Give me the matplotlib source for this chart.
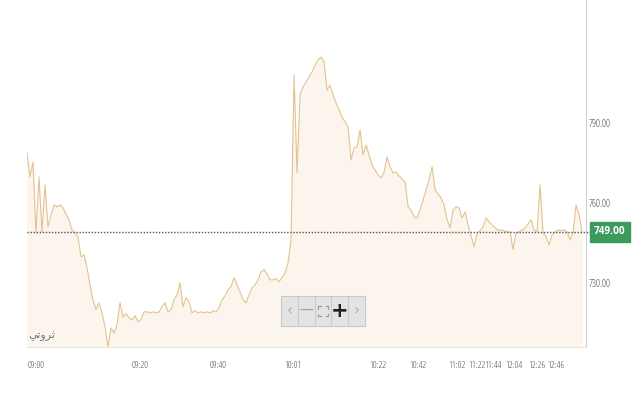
import matplotlib
matplotlib.use("Agg")
import matplotlib.pyplot as plt
from matplotlib.patches import Rectangle
from matplotlib.lines import Line2D
from matplotlib.font_manager import FontProperties
import matplotlib.transforms as mtransforms

# ---- data ----
prices = [
    778.6, 769.6, 775.2, 748.6, 769.6, 749.0, 766.6, 750.9, 755.4, 759.1,
    758.4, 759.1, 758.0, 755.7, 753.5, 749.7, 748.6, 747.1, 739.6, 740.4,
    735.5, 729.1, 723.5, 719.8, 722.4, 718.6, 713.4, 705.9, 713.0, 711.1,
    714.1, 722.4, 717.1, 718.3, 716.8, 716.0, 717.5, 715.3, 716.0, 719.0,
    719.0, 718.6, 719.0, 718.6, 719.0, 720.9, 722.4, 719.0, 719.8, 723.5,
    725.4, 729.9, 720.9, 724.3, 722.8, 718.6, 719.4, 718.6, 719.0, 718.6,
    719.0, 718.6, 719.4, 719.0, 720.5, 723.5, 725.0, 727.3, 728.4, 731.8,
    729.1, 726.5, 723.5, 722.4, 725.4, 728.0, 729.1, 731.0, 734.0, 734.8,
    733.3, 731.0, 731.0, 731.4, 730.3, 731.8, 733.6, 737.4, 746.0, 807.9,
    771.1, 800.4, 803.4, 805.2, 807.1, 809.0, 811.6, 813.5, 814.6, 812.7,
    802.2, 804.1, 800.4, 797.4, 794.7, 792.1, 790.2, 788.4, 776.0, 780.5,
    780.9, 787.2, 777.9, 781.6, 777.9, 774.1, 772.2, 770.4, 769.2, 771.5,
    777.1, 773.4, 771.1, 771.5, 770.0, 768.9, 767.7, 758.4, 757.2, 754.6,
    754.2, 757.2, 761.0, 764.7, 768.5, 773.4, 764.7, 763.2, 761.7, 759.1,
    753.5, 750.5, 757.2, 758.4, 758.0, 754.2, 756.5, 751.6, 747.5, 743.4,
    748.6, 749.4, 750.9, 754.2, 752.7, 751.6, 750.5, 749.7, 749.7, 749.4,
    749.0, 749.0, 742.3, 748.6, 749.0, 749.7, 750.5, 752.0, 753.5, 749.7,
    749.0, 766.6, 748.6, 747.1, 744.1, 747.9, 749.0, 749.7, 749.4, 749.7,
    749.0, 746.0, 748.6, 759.1, 755.4, 749.0,
]
tick_positions = [3, 37.7, 63.7, 88.7, 117, 130.3, 143.3, 150, 155.3, 162.3, 170, 176.3]
tick_labels = ["09:00", "09:20", "09:40", "10:01", "10:22", "10:42",
               "11:02", "11:22", "11:44", "12:04", "12:26", "12:46"]
y_ticks = [730, 760, 790]
y_tick_labels = ["730.00", "760.00", "790.00"]
reference_price = 749.0
reference_label = "749.00"
brand = "\ufef2\ufe97\ufeed\ufeae\ufe9b"  # ثروتي in presentation forms (visual order)

# ---- style ----
line_color = "#e3c38f"
fill_color = "#fbf5ed"
label_color = "#4a4a4a"
fp_tick = FontProperties(family="Open Sans", stretch="condensed", size=7.2)
fp_xtick = FontProperties(family="Open Sans", stretch="condensed", size=6.8)
fp_badge = FontProperties(family="Open Sans", stretch="condensed", weight="bold", size=7.2)

fig = plt.figure(figsize=(6.4, 4.0), dpi=100)
fig.patch.set_facecolor("white")
ax = fig.add_axes([27 / 640, 53 / 400, 559 / 640, 347 / 400])

x = list(range(len(prices)))
ymin, ymax = 705.8, 836.0
ax.fill_between(x, prices, ymin, color=fill_color, lw=0, zorder=1)
ax.plot(x, prices, color=line_color, lw=0.8, zorder=3)

ax.set_xlim(0, 186.3)
ax.set_ylim(ymin, ymax)

# reference dotted line extending to label
trans = mtransforms.blended_transform_factory(ax.transAxes, ax.transData)
ax.add_line(Line2D([0, 1.02], [reference_price, reference_price], transform=trans,
                   color="#555555", lw=1.0, linestyle=(0, (1, 1.2)),
                   clip_on=False, zorder=4))
ax.text(1.043, reference_price, reference_label, transform=trans,
        ha="center", va="center", color="white", fontproperties=fp_badge, zorder=6,
        bbox=dict(boxstyle="square,pad=0.45", fc="#3e9a5c", ec="#3e9a5c"))

# axes styling
for s in ["top", "left"]:
    ax.spines[s].set_visible(False)
ax.spines["right"].set_color("#d0d0d0")
ax.spines["right"].set_linewidth(0.8)
ax.spines["bottom"].set_color("#ece6de")
ax.spines["bottom"].set_linewidth(0.8)

ax.yaxis.tick_right()
ax.set_yticks(y_ticks)
ax.set_yticklabels(y_tick_labels)
ax.set_xticks(tick_positions)
ax.set_xticklabels(tick_labels)
ax.tick_params(axis="both", length=0, labelcolor=label_color)
ax.tick_params(axis="y", pad=2)
ax.tick_params(axis="x", pad=10)
for lab in ax.get_yticklabels():
    lab.set_fontproperties(fp_tick)
for lab in ax.get_xticklabels():
    lab.set_fontproperties(fp_xtick)

# brand text
ax.text(0.002, 0.018, brand, transform=ax.transAxes, fontsize=8,
        color="#777777", family=["DejaVu Sans"], ha="left", va="bottom", zorder=5)

# zoom widget (UI decoration)
wx0, wy0, cw, wh = 281 / 640, (400 - 326) / 400, 16.8 / 640, 30 / 400
fig.patches.append(Rectangle((wx0, wy0), cw * 5, wh, transform=fig.transFigure,
                             fc="#e4e4e4", ec="#c9c9c9", lw=0.8, zorder=10))
for k in range(1, 5):
    fig.lines.append(Line2D([wx0 + cw * k] * 2, [wy0, wy0 + wh],
                            transform=fig.transFigure, color="#cbcbcb", lw=0.8, zorder=11))
glyphs = ["\u2039", "\u2014", "", "+", "\u203a"]
colors = ["#b0b0b0", "#9a9a9a", "#9a9a9a", "#222222", "#b0b0b0"]
sizes = [11, 10, 10, 15, 11]
weights = ["normal", "normal", "normal", "bold", "normal"]
for k, (g, c, s, w) in enumerate(zip(glyphs, colors, sizes, weights)):
    if g:
        fig.text(wx0 + cw * (k + 0.5), wy0 + wh / 2, g, ha="center", va="center",
                 color=c, fontsize=s, fontweight=w, family="DejaVu Sans", zorder=12)
# fullscreen corner marks
cx, cy = wx0 + cw * 2.5, wy0 + wh / 2
dx, dy, ln, lny = 5 / 640, 5 / 400, 2.5 / 640, 2.5 / 400
for sx in (-1, 1):
    for sy in (-1, 1):
        px, py = cx + sx * dx, cy + sy * dy
        fig.lines.append(Line2D([px, px - sx * ln], [py, py], transform=fig.transFigure,
                                color="#9a9a9a", lw=0.8, zorder=12))
        fig.lines.append(Line2D([px, px], [py, py - sy * lny], transform=fig.transFigure,
                                color="#9a9a9a", lw=0.8, zorder=12))

fig.savefig("out.png", dpi=100, facecolor="white")
